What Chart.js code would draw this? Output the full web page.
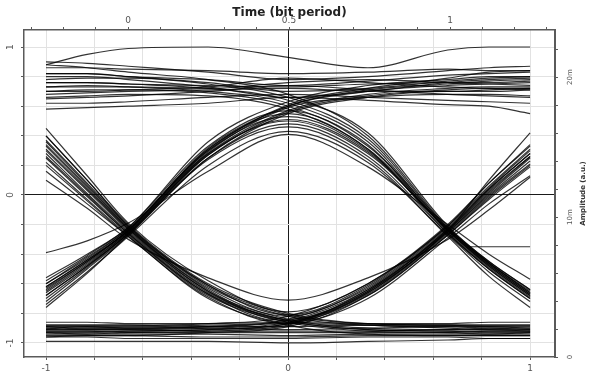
<!DOCTYPE html>
<html>
<head>
<meta charset="utf-8">
<title>Eye diagram</title>
<script src="https://cdn.jsdelivr.net/npm/chart.js@4.4.1/dist/chart.umd.min.js"></script>
<style>
  html, body { margin: 0; padding: 0; background: #fff; }
  #eye { display: block; }
</style>
</head>
<body>
<canvas id="eye" width="600" height="380"></canvas>
<script>
// sample positions along the bottom axis (every quarter bit, crossings at +/-0.66)
const sampleX = [-1, -0.83, -0.66, -0.33, 0, 0.33, 0.66, 0.83, 1];

// 1-1-1 traces, upper rail
const highRail = [
  [0.90, 0.89, 0.87, 0.83, 0.78, 0.80, 0.84, 0.86, 0.87],
  [0.86, 0.86, 0.85, 0.84, 0.82, 0.83, 0.85, 0.84, 0.84],
  [0.82, 0.82, 0.80, 0.78, 0.74, 0.77, 0.81, 0.82, 0.83],
  [0.80, 0.80, 0.78, 0.73, 0.66, 0.70, 0.76, 0.78, 0.79],
  [0.78, 0.79, 0.79, 0.76, 0.70, 0.72, 0.77, 0.79, 0.80],
  [0.76, 0.76, 0.75, 0.74, 0.73, 0.75, 0.76, 0.76, 0.77],
  [0.73, 0.73, 0.73, 0.72, 0.76, 0.78, 0.76, 0.75, 0.74],
  [0.70, 0.70, 0.71, 0.73, 0.79, 0.76, 0.73, 0.72, 0.71],
  [0.68, 0.69, 0.70, 0.71, 0.72, 0.70, 0.70, 0.71, 0.72],
  [0.65, 0.66, 0.67, 0.70, 0.74, 0.71, 0.68, 0.67, 0.66],
  [0.62, 0.62, 0.63, 0.66, 0.68, 0.66, 0.64, 0.63, 0.62],
  [0.58, 0.59, 0.60, 0.62, 0.66, 0.64, 0.61, 0.60, 0.55],
  [0.88, 0.95, 0.99, 1.00, 0.93, 0.86, 0.98, 1.00, 1.00]
];

// 0-0-0 traces, lower rail
const lowRail = [
  [-0.86, -0.86, -0.87, -0.87, -0.86, -0.87, -0.87, -0.86, -0.86],
  [-0.88, -0.88, -0.88, -0.89, -0.89, -0.88, -0.88, -0.88, -0.88],
  [-0.89, -0.90, -0.90, -0.90, -0.91, -0.90, -0.89, -0.90, -0.90],
  [-0.90, -0.89, -0.89, -0.88, -0.87, -0.88, -0.90, -0.91, -0.91],
  [-0.91, -0.91, -0.91, -0.92, -0.92, -0.92, -0.91, -0.91, -0.92],
  [-0.92, -0.92, -0.93, -0.93, -0.93, -0.93, -0.93, -0.92, -0.92],
  [-0.93, -0.94, -0.94, -0.94, -0.95, -0.94, -0.94, -0.94, -0.93],
  [-0.95, -0.95, -0.95, -0.96, -0.96, -0.95, -0.95, -0.95, -0.95],
  [-0.96, -0.96, -0.97, -0.97, -0.97, -0.96, -0.96, -0.97, -0.97],
  [-0.99, -0.99, -0.99, -0.99, -1.00, -0.99, -0.98, -0.97, -0.97]
];

// 1-0-0
const fallLow = [
  [0.34, 0.06, -0.22, -0.62, -0.82, -0.88, -0.89, -0.89, -0.90],
  [0.28, 0.01, -0.25, -0.66, -0.85, -0.91, -0.92, -0.92, -0.92],
  [0.40, 0.10, -0.20, -0.60, -0.80, -0.87, -0.88, -0.88, -0.88],
  [0.22, -0.03, -0.27, -0.68, -0.86, -0.92, -0.93, -0.94, -0.94],
  [0.31, 0.04, -0.23, -0.65, -0.84, -0.90, -0.91, -0.90, -0.91],
  [0.16, -0.06, -0.28, -0.70, -0.88, -0.94, -0.95, -0.95, -0.95],
  [0.37, 0.08, -0.21, -0.61, -0.81, -0.87, -0.88, -0.89, -0.89],
  [0.25, -0.01, -0.26, -0.67, -0.85, -0.91, -0.92, -0.93, -0.93]
];

// 1-0-1, bottom of the eye
const lowerArc = [
  [0.33, 0.05, -0.23, -0.63, -0.82, -0.62, -0.22, 0.05, 0.30],
  [0.26, 0.00, -0.26, -0.67, -0.86, -0.66, -0.25, 0.01, 0.25],
  [0.45, 0.13, -0.19, -0.58, -0.79, -0.60, -0.20, 0.08, 0.34],
  [0.20, -0.04, -0.28, -0.69, -0.87, -0.68, -0.27, -0.02, 0.20],
  [0.10, -0.09, -0.30, -0.56, -0.71, -0.56, -0.30, -0.10, 0.12],
  [0.36, 0.07, -0.22, -0.64, -0.84, -0.65, -0.23, 0.04, 0.28],
  [0.30, 0.03, -0.24, -0.65, -0.85, -0.64, -0.24, 0.03, 0.26],
  [0.40, 0.10, -0.21, -0.61, -0.81, -0.61, -0.21, 0.06, 0.31]
];

// 0-1-1
const riseHigh = [
  [-0.62, -0.44, -0.24, 0.32, 0.60, 0.70, 0.74, 0.75, 0.76],
  [-0.68, -0.48, -0.26, 0.28, 0.57, 0.68, 0.72, 0.73, 0.73],
  [-0.56, -0.40, -0.22, 0.36, 0.63, 0.74, 0.78, 0.80, 0.80],
  [-0.72, -0.50, -0.27, 0.25, 0.55, 0.66, 0.70, 0.70, 0.71],
  [-0.60, -0.43, -0.23, 0.30, 0.61, 0.72, 0.79, 0.83, 0.84],
  [-0.65, -0.46, -0.25, 0.29, 0.59, 0.66, 0.68, 0.68, 0.67],
  [-0.63, -0.45, -0.24, 0.31, 0.60, 0.71, 0.75, 0.77, 0.78],
  [-0.70, -0.49, -0.26, 0.27, 0.56, 0.67, 0.71, 0.72, 0.72]
];

// 0-1-0, top of the eye
const upperArc = [
  [-0.62, -0.44, -0.24, 0.30, 0.53, 0.30, -0.24, -0.47, -0.67],
  [-0.68, -0.48, -0.26, 0.25, 0.48, 0.26, -0.26, -0.50, -0.70],
  [-0.58, -0.41, -0.22, 0.33, 0.57, 0.33, -0.22, -0.45, -0.64],
  [-0.74, -0.52, -0.28, 0.20, 0.43, 0.22, -0.27, -0.52, -0.72],
  [-0.39, -0.31, -0.19, 0.16, 0.41, 0.19, -0.20, -0.40, -0.57],
  [-0.64, -0.45, -0.24, 0.28, 0.50, 0.28, -0.23, -0.46, -0.66],
  [-0.76, -0.53, -0.27, 0.24, 0.46, 0.24, -0.28, -0.55, -0.76],
  [-0.66, -0.47, -0.25, 0.27, 0.51, 0.29, -0.24, -0.48, -0.68],
  [-0.60, -0.42, -0.23, 0.31, 0.55, 0.31, -0.23, -0.46, -0.65]
];

// 1-1-0
const highFall = [
  [0.76, 0.76, 0.75, 0.72, 0.64, 0.38, -0.23, -0.47, -0.67],
  [0.70, 0.71, 0.71, 0.69, 0.60, 0.34, -0.25, -0.49, -0.69],
  [0.82, 0.82, 0.80, 0.75, 0.66, 0.42, -0.21, -0.45, -0.64],
  [0.66, 0.67, 0.68, 0.67, 0.58, 0.31, -0.26, -0.50, -0.70],
  [0.88, 0.86, 0.83, 0.78, 0.68, 0.40, -0.22, -0.46, -0.66],
  [0.73, 0.74, 0.73, 0.70, 0.62, 0.36, -0.24, -0.48, -0.68]
];

// 0-0-1
const lowRise = [
  [-0.89, -0.89, -0.90, -0.89, -0.84, -0.63, -0.23, 0.04, 0.28],
  [-0.92, -0.92, -0.92, -0.91, -0.87, -0.66, -0.25, 0.00, 0.23],
  [-0.88, -0.88, -0.88, -0.87, -0.82, -0.60, -0.21, 0.08, 0.33],
  [-0.94, -0.94, -0.93, -0.92, -0.88, -0.68, -0.27, -0.03, 0.19],
  [-0.90, -0.91, -0.91, -0.90, -0.86, -0.65, -0.24, 0.10, 0.42],
  [-0.96, -0.95, -0.95, -0.93, -0.89, -0.70, -0.29, -0.06, 0.13],
  [-0.91, -0.90, -0.90, -0.89, -0.85, -0.64, -0.24, 0.02, 0.26],
  [-0.93, -0.93, -0.92, -0.91, -0.87, -0.67, -0.26, -0.01, 0.21]
];

// short flat piece under the right crossing
const stubX = [0.75, 1];
const stubY = [-0.35, -0.35];

// tick labels
const bottomTicks = [-1, 0, 1];
const bottomLabels = ['-1', '0', '1'];
const topTicks = [0, 0.5, 1];
const topLabels = ['0', '0.5', '1'];
const leftTicks = [-1, 0, 1];
const leftLabels = ['-1', '0', '1'];
const rightTicks = [0, 0.01, 0.02];
const rightLabels = ['0', '10m', '20m'];

const traceColor = 'rgba(0,0,0,0.8)';
const tickFont = { family: 'DejaVu Sans', size: 9 };
const tickColor = '#555';
const gridLight = '#e2e2e2';
const frameColor = '#5a5a5a';

function toTrace(vals, xs) {
  return {
    data: vals.map((y, i) => ({ x: (xs || sampleX)[i], y })),
    borderColor: traceColor,
    borderWidth: 1.2,
    pointRadius: 0,
    fill: false,
    cubicInterpolationMode: 'monotone',
    xAxisID: 'x',
    yAxisID: 'y'
  };
}

const datasets = []
  .concat(highRail, lowRail, fallLow, lowerArc, riseHigh, upperArc, highFall, lowRise)
  .map(v => toTrace(v));
datasets.push(toTrace(stubY, stubX));

// label only the listed tick values, keep the other ticks blank
function pickLabel(values, labels) {
  return v => {
    const i = values.findIndex(t => Math.abs(t - v) < 1e-6);
    return i >= 0 ? labels[i] : '';
  };
}

const zeroGrid = ctx => (ctx.tick && Math.abs(ctx.tick.value) < 1e-6 ? '#1a1a1a' : gridLight);

// right-hand axis title reads bottom to top
const amplitudeTitle = {
  id: 'amplitudeTitle',
  afterDraw(chart) {
    const { ctx, chartArea } = chart;
    const scale = chart.scales.yRight;
    ctx.save();
    ctx.translate(scale.left + 28, (chartArea.top + chartArea.bottom) / 2);
    ctx.rotate(-Math.PI / 2);
    ctx.font = 'bold 7px "DejaVu Sans"';
    ctx.fillStyle = '#333';
    ctx.textAlign = 'center';
    ctx.textBaseline = 'middle';
    ctx.fillText('Amplitude (a.u.)', 0, 0);
    ctx.restore();
  }
};

new Chart(document.getElementById('eye'), {
  type: 'line',
  data: { datasets },
  options: {
    responsive: false,
    animation: false,
    devicePixelRatio: 1,
    layout: { padding: 0 },
    plugins: { legend: { display: false }, tooltip: { enabled: false } },
    scales: {
      x: {
        type: 'linear',
        position: 'bottom',
        min: -1.091,
        max: 1.103,
        afterFit: s => { s.height = 23; },
        ticks: {
          stepSize: 0.2, includeBounds: false, autoSkip: false, maxRotation: 0,
          padding: 3, font: tickFont, color: tickColor,
          callback: pickLabel(bottomTicks, bottomLabels)
        },
        grid: { color: zeroGrid, tickLength: 3, tickColor: frameColor },
        border: { color: frameColor, width: 1.5 }
      },
      xTop: {
        type: 'linear',
        position: 'top',
        min: -0.323,
        max: 1.326,
        afterFit: s => { s.height = 30; },
        title: {
          display: true,
          text: 'Time (bit period)',
          font: { family: 'DejaVu Sans', size: 12, weight: 'bold' },
          color: '#222',
          padding: { top: 6, bottom: 0 }
        },
        ticks: {
          stepSize: 0.1, includeBounds: false, autoSkip: false, maxRotation: 0,
          padding: 1, font: tickFont, color: tickColor,
          callback: pickLabel(topTicks, topLabels)
        },
        grid: { drawOnChartArea: false, tickLength: 3, tickColor: frameColor },
        border: { color: frameColor, width: 1.5 }
      },
      y: {
        type: 'linear',
        position: 'left',
        min: -1.095,
        max: 1.115,
        afterFit: s => { s.width = 24; },
        ticks: {
          stepSize: 0.2, includeBounds: false, autoSkip: false,
          minRotation: 90, maxRotation: 90, crossAlign: 'center',
          padding: 6, font: tickFont, color: tickColor,
          callback: pickLabel(leftTicks, leftLabels)
        },
        grid: { color: zeroGrid, tickLength: 3, tickColor: frameColor },
        border: { color: frameColor, width: 1.5 }
      },
      yRight: {
        type: 'linear',
        position: 'right',
        min: 0,
        max: 0.02336,
        afterFit: s => { s.width = 45; },
        ticks: {
          stepSize: 0.002, includeBounds: false, autoSkip: false,
          minRotation: 90, maxRotation: 90, crossAlign: 'center',
          padding: 4, font: { family: 'DejaVu Sans', size: 7 }, color: tickColor,
          callback: pickLabel(rightTicks, rightLabels)
        },
        grid: { drawOnChartArea: false, tickLength: 3, tickColor: frameColor },
        border: { color: frameColor, width: 2 }
      }
    }
  },
  plugins: [amplitudeTitle]
});
</script>
</body>
</html>
